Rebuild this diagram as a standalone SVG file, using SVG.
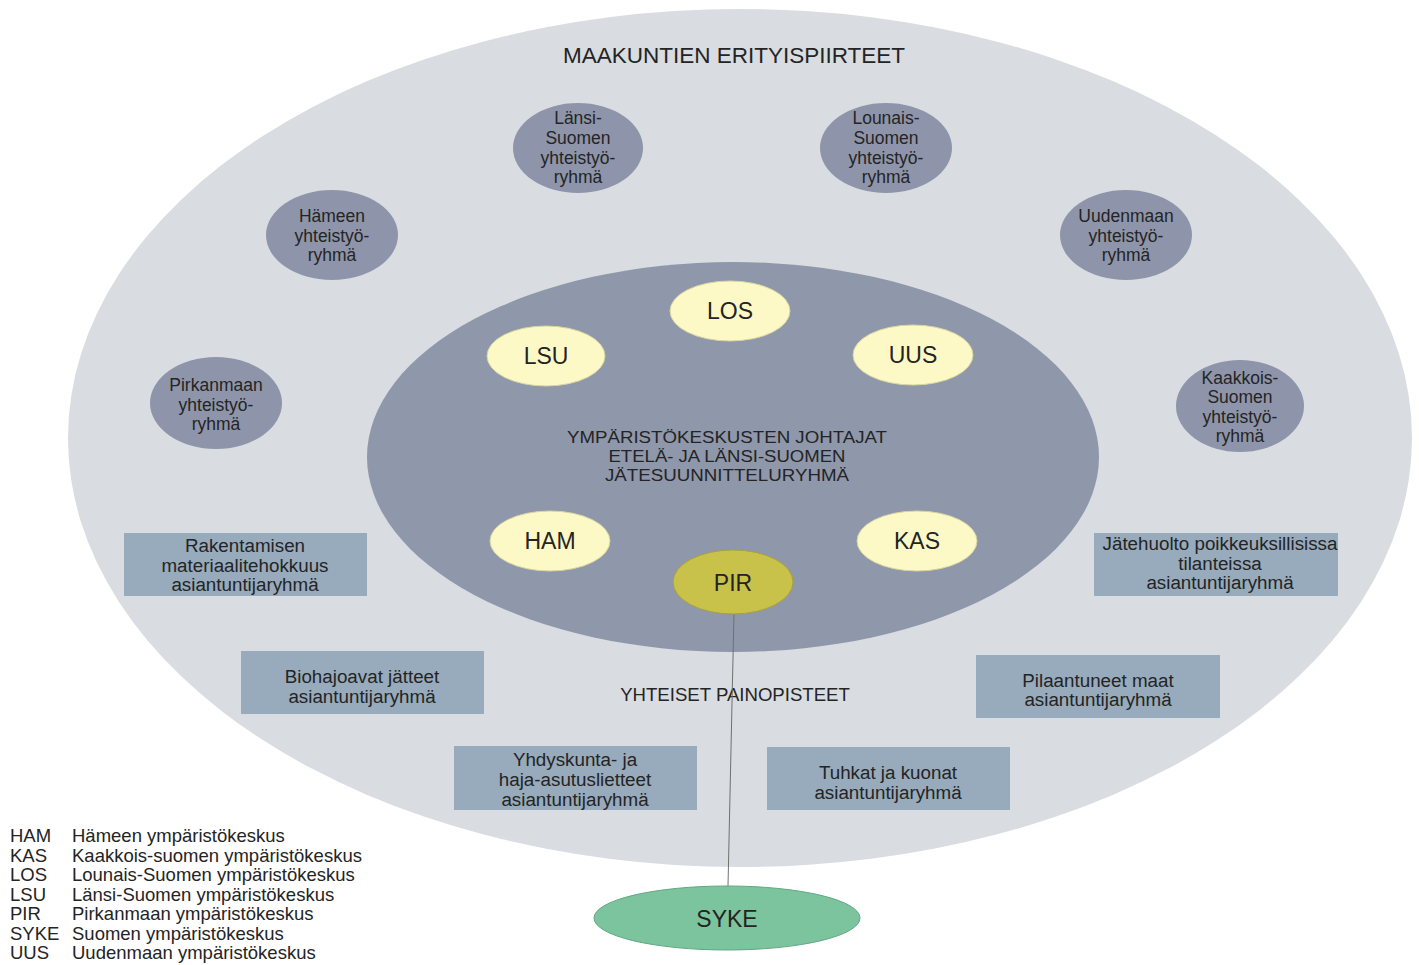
<svg xmlns="http://www.w3.org/2000/svg" width="1419" height="965" viewBox="0 0 1419 965">
  <style>
    text { font-family: "Liberation Sans", Arial, sans-serif; fill: #242424; text-anchor: middle; }
    .outer { fill: #d9dce0; }
    .core { fill: #8f97ab; }
    .coop { fill: #8e95aa; }
    .coop-t { font-size: 17.5px; }
    .centre { fill: #fdf9c6; stroke: #d8d4a0; stroke-width: 1; }
    .centre-t { font-size: 23px; }
    .pir { fill: #c9c24a; stroke: #a8a23a; stroke-width: 1; }
    .box { fill: #97abbc; }
    .box-t { font-size: 18.8px; }
    .head { font-size: 22.5px; }
    .mid { font-size: 18.6px; }
    .core-t { font-size: 16px; }
    .syke { fill: #7cc49e; stroke: #5fa883; stroke-width: 1; }
    .legend text { text-anchor: start; font-size: 18.5px; }
    .link { stroke: #707070; stroke-width: 1; fill: none; }
  </style>

  <!-- regional characteristics: outer field -->
  <g id="outer-field">
    <ellipse class="outer" cx="740" cy="438" rx="672" ry="429"/>
    <text class="head" x="734" y="63">MAAKUNTIEN ERITYISPIIRTEET</text>
    <text class="mid" x="735" y="701">YHTEISET PAINOPISTEET</text>
  </g>

  <!-- directors / waste planning group (condensed caption) -->
  <g id="core-group">
    <ellipse class="core" cx="733" cy="457" rx="366" ry="195"/>
    <text class="core-t" x="727" y="443" textLength="320" lengthAdjust="spacingAndGlyphs">YMPÄRISTÖKESKUSTEN JOHTAJAT</text>
    <text class="core-t" x="727" y="462" textLength="237" lengthAdjust="spacingAndGlyphs">ETELÄ- JA LÄNSI-SUOMEN</text>
    <text class="core-t" x="727" y="481" textLength="244" lengthAdjust="spacingAndGlyphs">JÄTESUUNNITTELURYHMÄ</text>
  </g>

  <!-- connector PIR to SYKE -->
  <g id="connectors">
    <line class="link" x1="734" y1="612" x2="728" y2="886"/>
  </g>

  <!-- regional environment centres -->
  <g id="node-los">
    <ellipse class="centre" cx="730" cy="311" rx="60" ry="30"/>
    <text class="centre-t" x="730" y="319">LOS</text>
  </g>
  <g id="node-lsu">
    <ellipse class="centre" cx="546" cy="356" rx="59" ry="30"/>
    <text class="centre-t" x="546" y="364">LSU</text>
  </g>
  <g id="node-uus">
    <ellipse class="centre" cx="913" cy="355" rx="60" ry="30"/>
    <text class="centre-t" x="913" y="363">UUS</text>
  </g>
  <g id="node-ham">
    <ellipse class="centre" cx="550" cy="541" rx="60" ry="30"/>
    <text class="centre-t" x="550" y="549">HAM</text>
  </g>
  <g id="node-kas">
    <ellipse class="centre" cx="917" cy="541" rx="60" ry="30"/>
    <text class="centre-t" x="917" y="549">KAS</text>
  </g>
  <g id="node-pir">
    <ellipse class="pir" cx="733" cy="582" rx="60" ry="32"/>
    <text class="centre-t" x="733" y="591">PIR</text>
  </g>

  <!-- cooperation groups -->
  <g id="coop-lansi">
    <ellipse class="coop" cx="578" cy="148" rx="65" ry="45"/>
    <text class="coop-t" x="578" y="124">Länsi-</text>
    <text class="coop-t" x="578" y="144">Suomen</text>
    <text class="coop-t" x="578" y="164">yhteistyö-</text>
    <text class="coop-t" x="578" y="183">ryhmä</text>
  </g>
  <g id="coop-lounais">
    <ellipse class="coop" cx="886" cy="148" rx="66" ry="45"/>
    <text class="coop-t" x="886" y="124">Lounais-</text>
    <text class="coop-t" x="886" y="144">Suomen</text>
    <text class="coop-t" x="886" y="164">yhteistyö-</text>
    <text class="coop-t" x="886" y="183">ryhmä</text>
  </g>
  <g id="coop-hame">
    <ellipse class="coop" cx="332" cy="235" rx="66" ry="45"/>
    <text class="coop-t" x="332" y="222">Hämeen</text>
    <text class="coop-t" x="332" y="242">yhteistyö-</text>
    <text class="coop-t" x="332" y="261">ryhmä</text>
  </g>
  <g id="coop-uusimaa">
    <ellipse class="coop" cx="1126" cy="235" rx="66" ry="45"/>
    <text class="coop-t" x="1126" y="222">Uudenmaan</text>
    <text class="coop-t" x="1126" y="242">yhteistyö-</text>
    <text class="coop-t" x="1126" y="261">ryhmä</text>
  </g>
  <g id="coop-pirkanmaa">
    <ellipse class="coop" cx="216" cy="403" rx="66" ry="46"/>
    <text class="coop-t" x="216" y="391">Pirkanmaan</text>
    <text class="coop-t" x="216" y="411">yhteistyö-</text>
    <text class="coop-t" x="216" y="430">ryhmä</text>
  </g>
  <g id="coop-kaakkois">
    <ellipse class="coop" cx="1240" cy="406" rx="64" ry="46"/>
    <text class="coop-t" x="1240" y="384">Kaakkois-</text>
    <text class="coop-t" x="1240" y="403">Suomen</text>
    <text class="coop-t" x="1240" y="423">yhteistyö-</text>
    <text class="coop-t" x="1240" y="442">ryhmä</text>
  </g>

  <!-- expert groups -->
  <g id="box-rakentaminen">
    <rect class="box" x="124" y="533" width="243" height="63"/>
    <text class="box-t" x="245" y="552">Rakentamisen</text>
    <text class="box-t" x="245" y="572">materiaalitehokkuus</text>
    <text class="box-t" x="245" y="591">asiantuntijaryhmä</text>
  </g>
  <g id="box-jatehuolto">
    <rect class="box" x="1094" y="533" width="244" height="63"/>
    <text class="box-t" x="1220" y="550">Jätehuolto poikkeuksillisissa</text>
    <text class="box-t" x="1220" y="570">tilanteissa</text>
    <text class="box-t" x="1220" y="589">asiantuntijaryhmä</text>
  </g>
  <g id="box-biohajoavat">
    <rect class="box" x="241" y="651" width="243" height="63"/>
    <text class="box-t" x="362" y="683">Biohajoavat jätteet</text>
    <text class="box-t" x="362" y="703">asiantuntijaryhmä</text>
  </g>
  <g id="box-pilaantuneet">
    <rect class="box" x="976" y="655" width="244" height="63"/>
    <text class="box-t" x="1098" y="687">Pilaantuneet maat</text>
    <text class="box-t" x="1098" y="706">asiantuntijaryhmä</text>
  </g>
  <g id="box-lietteet">
    <rect class="box" x="454" y="746" width="243" height="64"/>
    <text class="box-t" x="575" y="766">Yhdyskunta- ja</text>
    <text class="box-t" x="575" y="786">haja-asutuslietteet</text>
    <text class="box-t" x="575" y="806">asiantuntijaryhmä</text>
  </g>
  <g id="box-tuhkat">
    <rect class="box" x="767" y="747" width="243" height="63"/>
    <text class="box-t" x="888" y="779">Tuhkat ja kuonat</text>
    <text class="box-t" x="888" y="799">asiantuntijaryhmä</text>
  </g>

  <!-- Finnish Environment Institute -->
  <g id="node-syke">
    <ellipse class="syke" cx="727" cy="918" rx="133" ry="32"/>
    <text class="centre-t" x="727" y="927">SYKE</text>
  </g>

  <!-- abbreviations -->
  <g id="legend" class="legend">
    <text x="10" y="842">HAM</text><text x="72" y="842">Hämeen ympäristökeskus</text>
    <text x="10" y="862">KAS</text><text x="72" y="862">Kaakkois-suomen ympäristökeskus</text>
    <text x="10" y="881">LOS</text><text x="72" y="881">Lounais-Suomen ympäristökeskus</text>
    <text x="10" y="901">LSU</text><text x="72" y="901">Länsi-Suomen ympäristökeskus</text>
    <text x="10" y="920">PIR</text><text x="72" y="920">Pirkanmaan ympäristökeskus</text>
    <text x="10" y="940">SYKE</text><text x="72" y="940">Suomen ympäristökeskus</text>
    <text x="10" y="959">UUS</text><text x="72" y="959">Uudenmaan ympäristökeskus</text>
  </g>
</svg>
